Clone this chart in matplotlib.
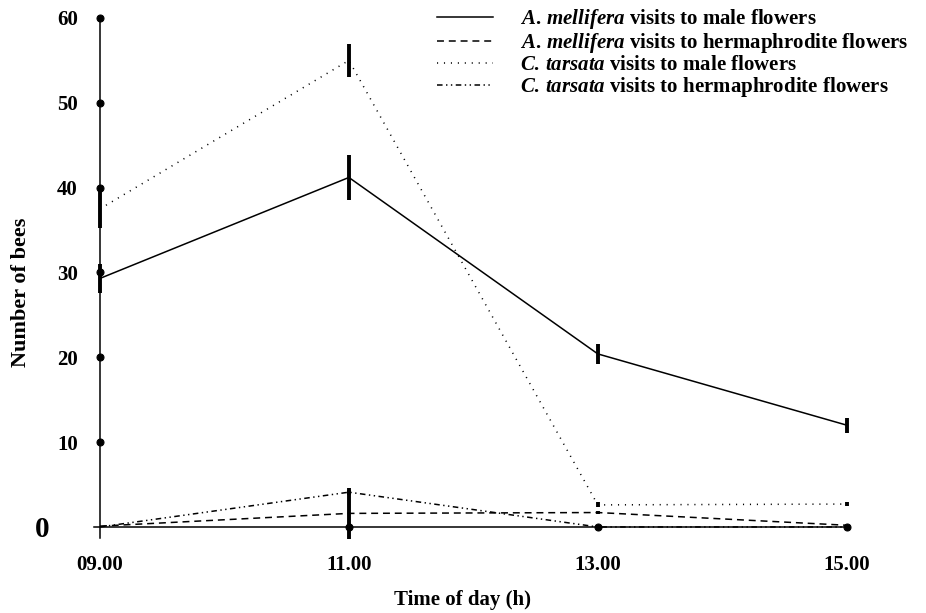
import numpy as np
import matplotlib
matplotlib.use('Agg')
import matplotlib.pyplot as plt

plt.rcParams['font.family'] = ['Liberation Serif', 'DejaVu Serif']
plt.rcParams['font.weight'] = 'bold'
plt.rcParams['mathtext.fontset'] = 'custom'
plt.rcParams['mathtext.it'] = 'Liberation Serif:bold:italic'
plt.rcParams['mathtext.rm'] = 'Liberation Serif:bold'
plt.rcParams['lines.scale_dashes'] = False

# data
hours = [9, 11, 13, 15]
hour_labels = ['09.00', '11.00', '13.00', '15.00']

mell_male = [29.3, 41.2, 20.4, 12.0]
mell_male_err = [1.7, 2.6, 1.2, 0.9]
mell_herm = [0.1, 1.6, 1.7, 0.2]
mell_herm_err = [0.0, 3.0, 0.2, 0.0]
tars_male = [37.5, 55.0, 2.6, 2.7]
tars_male_err = [2.3, 1.9, 0.3, 0.2]
tars_herm = [0.0, 4.1, 0.0, 0.0]
tars_herm_err = [0.0, 0.3, 0.0, 0.0]

labels = [r'$\mathit{A.\,mellifera}$ visits to male flowers',
          r'$\mathit{A.\,mellifera}$ visits to hermaphrodite flowers',
          r'$\mathit{C.\,tarsata}$ visits to male flowers',
          r'$\mathit{C.\,tarsata}$ visits to hermaphrodite flowers']
styles = ['-', (0, (5, 3.5)), (0, (0.8, 4.2)), (0, (4, 2.5, 1, 2.5, 1, 2.5))]

fig = plt.figure(figsize=(9.26, 6.13), dpi=100)
ax = fig.add_axes([0.0878, 0.1196, 0.8938, 0.8649])

series = [(mell_male, mell_male_err), (mell_herm, mell_herm_err),
          (tars_male, tars_male_err), (tars_herm, tars_herm_err)]
handles = []
for (vals, err), ls, lab in zip(series, styles, labels):
    ln, = ax.plot(hours, vals, color='black', lw=1.1, linestyle=ls, label=lab)
    ax.errorbar(hours, vals, yerr=err, fmt='none', ecolor='black',
                elinewidth=2.8, capsize=0)
    handles.append(ln)

ax.set_xlim(8.85, 15.5)
ax.set_ylim(-1.5, 61)
ax.spines['top'].set_visible(False)
ax.spines['right'].set_visible(False)
ax.spines['left'].set_position(('data', 9))
ax.spines['bottom'].set_position(('data', 0))
ax.spines['left'].set_bounds(-1.3, 60)
ax.spines['bottom'].set_bounds(8.95, 15)
ax.spines['left'].set_linewidth(1.1)
ax.spines['bottom'].set_linewidth(1.1)

ax.set_yticks([0, 10, 20, 30, 40, 50, 60])
ax.set_xticks(hours)
ax.set_xticklabels(hour_labels)
ax.tick_params(axis='y', length=5, pad=11, labelsize=15)
ax.tick_params(axis='x', length=5, pad=15, labelsize=15)

for i, t in enumerate(ax.yaxis.get_major_ticks()):
    t.tick1line.set_marker('o')
    t.tick1line.set_markersize(5)
    t.tick1line.set_markerfacecolor('black')
    if i == 0:
        t.tick1line.set_visible(False)
        t.label1.set_fontsize(21)
        t.set_pad(31)
for i, t in enumerate(ax.xaxis.get_major_ticks()):
    t.tick1line.set_marker('o')
    t.tick1line.set_markersize(5)
    t.tick1line.set_markerfacecolor('black')
    if i == 0:
        t.tick1line.set_visible(False)

ax.set_ylabel('Number of bees', fontsize=16, fontweight='bold')
ax.yaxis.set_label_coords(-0.0608, 0.467)
ax.set_xlabel('Time of day (h)', fontsize=15, fontweight='bold')
ax.xaxis.set_label_coords(0.46, -0.095)

leg = ax.legend(handles=handles, loc='upper left', bbox_to_anchor=(0.472, 0.988),
                bbox_transform=fig.transFigure, frameon=False, fontsize=15,
                handlelength=2.7, handletextpad=1.3, labelspacing=0.0,
                borderpad=0.0, borderaxespad=0.0)

fig.savefig('out.png', dpi=100)
